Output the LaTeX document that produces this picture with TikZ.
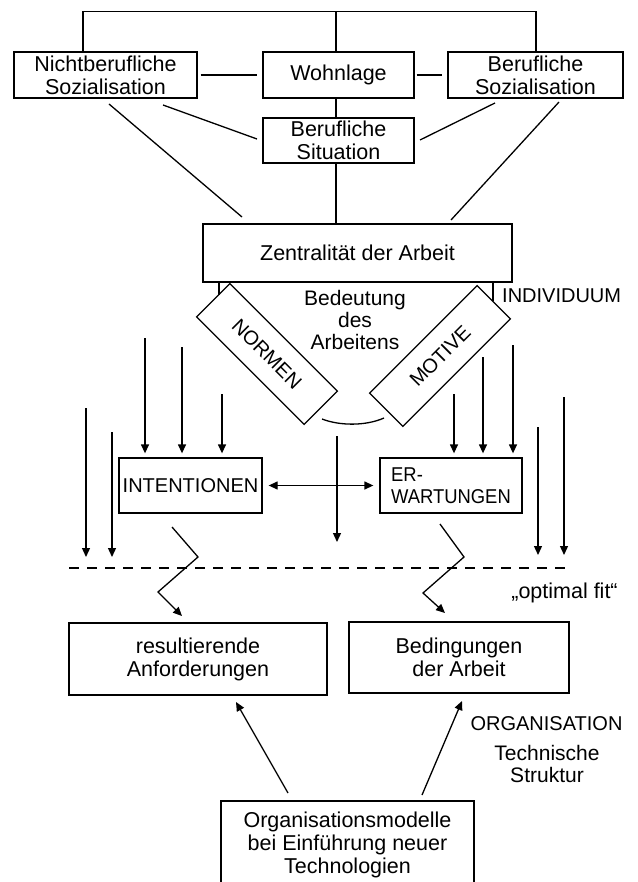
\documentclass[tikz,border=0pt]{standalone}
\usepackage{fontspec}
\setmainfont{Liberation Sans}
\newfontfamily\narrowfont[FakeStretch=0.92]{Liberation Sans}
\usetikzlibrary{arrows.meta}
\begin{document}
\begin{tikzpicture}[x=1pt,y=-1pt,
  every node/.style={font=\fontsize{21.5}{23}\selectfont, inner sep=0pt},
  caps/.style={font=\fontsize{20}{23}\selectfont},
  box/.style={draw, line width=1.3pt, align=center},
  ln/.style={line width=1.3pt},
  arr/.style={line width=1.3pt, -{Triangle[length=9pt,width=8pt]}},
  dashline/.style={line width=1.3pt, dash pattern=on 10pt off 8pt},
]
\useasboundingbox (0,0) rectangle (637,882);
\clip (0,0) rectangle (637,882);

% boxes
\node[box, minimum width=183pt, minimum height=46pt] (nicht) at (105.5,75) {Nichtberufliche\\Sozialisation};
\node[box, minimum width=151pt, minimum height=46pt] (wohn) at (338.5,75) {Wohnlage};
\node[box, minimum width=175pt, minimum height=46pt] (bsoz) at (535.5,75) {Berufliche\\Sozialisation};
\node[box, minimum width=151pt, minimum height=45pt] (bsit) at (338.5,140.5) {Berufliche\\Situation};
\node[box, minimum width=309pt, minimum height=58pt] (zent) at (357.5,253) {Zentralität der Arbeit};
\node[box, caps, minimum width=152pt, minimum height=47pt, rotate=-45] (normen) at (267,354) {NORMEN};
\node[box, caps, minimum width=152pt, minimum height=47pt, rotate=45] (motive) at (440,356) {MOTIVE};
\node[box, caps, minimum width=143pt, minimum height=55pt] (intent) at (190.5,485.5) {INTENTIONEN};
\node[box, minimum width=142pt, minimum height=55pt, align=left, font=\narrowfont\fontsize{20}{22}\selectfont] (erw) at (451,485.5) {ER-\\WARTUNGEN};
\node[box, minimum width=258pt, minimum height=72pt] (res) at (198,659) {resultierende\\Anforderungen};
\node[box, minimum width=220pt, minimum height=71pt] (bed) at (459,657.5) {Bedingungen\\der Arbeit};
\node[box, minimum width=253pt, minimum height=87pt] (org) at (347.5,844.5) {Organisationsmodelle\\bei Einführung neuer\\Technologien};

% free labels
\node[caps, anchor=west] (indiv) at (502,296) {INDIVIDUUM};
\node[align=center, font=\fontsize{21}{22}\selectfont] (bed2) at (355,320) {Bedeutung\\des\\Arbeitens};
\node (fit) at (564.5,593) {„optimal fit“};
\node[caps] (orga) at (546.5,724) {ORGANISATION};
\node[align=center, font=\fontsize{21}{22}\selectfont] (tech) at (547,764) {Technische\\Struktur};

% top connectors
\coordinate (tl) at (83,11.5);
\coordinate (tm) at (336,11.5);
\coordinate (tr) at (536,11.5);
\draw[ln] (tl |- nicht.north) -- (tl) -- (tr) -- (tr |- bsoz.north);
\draw[ln] (tm) -- (tm |- wohn.north);
\draw[ln] (wohn.south -| tm) -- (bsit.north -| tm);
\draw[ln] (bsit.south -| tm) -- (zent.north -| tm);
\draw[ln] ([xshift=3pt]nicht.east) -- ([xshift=-5pt]wohn.west);
\draw[ln] ([xshift=2pt]wohn.east) -- ([xshift=-5pt]bsoz.west);

% diagonals
\coordinate (d1a) at (163,105); \coordinate (d1b) at (257,139);
\coordinate (d2a) at (495,103); \coordinate (d2b) at (420,140);
\coordinate (d3a) at (109,104); \coordinate (d3b) at (242,217);
\coordinate (d4a) at (559,102); \coordinate (d4b) at (451,220);
\draw[ln] (d1a) -- (d1b);
\draw[ln] (d2a) -- (d2b);
\draw[ln] (d3a) -- (d3b);
\draw[ln] (d4a) -- (d4b);

% zent to normen / motive
\coordinate (zn) at (219,294.6);
\coordinate (zm) at (493,300.5);
\draw[ln] (zn |- zent.south) -- (zn);
\draw[ln] (zm |- zent.south) -- (zm);

% arc between normen and motive
\coordinate (arcA) at (322,419);
\coordinate (arcB) at (384,418);
\draw[ln] (arcA) .. controls (340,426) and (366,426) .. (arcB);

% arrows into intentionen
\coordinate (i1) at (145,338);
\coordinate (i2) at (182,347);
\coordinate (i3) at (222,394);
\foreach \c in {i1,i2,i3} \draw[arr, shorten >=4pt] (\c) -- (\c |- intent.north);
% arrows into erwartungen
\coordinate (e1) at (454,394);
\coordinate (e2) at (483,357);
\coordinate (e3) at (513,345);
\foreach \c in {e1,e2,e3} \draw[arr, shorten >=4pt] (\c) -- (\c |- erw.north);

% free vertical arrows
\coordinate (l1a) at (86,408);  \coordinate (l1b) at (86,557);
\coordinate (l2a) at (112,432); \coordinate (l2b) at (112,557);
\coordinate (r1a) at (538,427); \coordinate (r1b) at (538,555);
\coordinate (r2a) at (564,397); \coordinate (r2b) at (564,555);
\coordinate (ma) at (337,436);  \coordinate (mb) at (337,542);
\draw[arr] (l1a) -- (l1b);
\draw[arr] (l2a) -- (l2b);
\draw[arr] (r1a) -- (r1b);
\draw[arr] (r2a) -- (r2b);
\draw[arr] (ma) -- (mb);

% double arrow
\draw[line width=1.3pt, {Triangle[length=9pt,width=8pt]}-{Triangle[length=9pt,width=8pt]}, shorten <=6pt, shorten >=6pt] (intent.east) -- (erw.west);

% dashed line
\coordinate (dsa) at (69,568);
\coordinate (dsb) at (570,568);
\draw[dashline] (dsa) -- (dsb);

% zigzag arrows
\coordinate (zl1) at (172,527); \coordinate (zl2) at (198,557);
\coordinate (zl3) at (158,592); \coordinate (zl4) at (182,616);
\draw[arr] (zl1) -- (zl2) -- (zl3) -- (zl4);
\coordinate (zr1) at (440,524); \coordinate (zr2) at (464,557);
\coordinate (zr3) at (423,593); \coordinate (zr4) at (445,613);
\draw[arr] (zr1) -- (zr2) -- (zr3) -- (zr4);

% bottom arrows
\coordinate (o1a) at (288,793); \coordinate (o1b) at (236,702);
\coordinate (o2a) at (422,795); \coordinate (o2b) at (462,701);
\draw[arr] (o1a) -- (o1b);
\draw[arr] (o2a) -- (o2b);
\end{tikzpicture}
\end{document}
